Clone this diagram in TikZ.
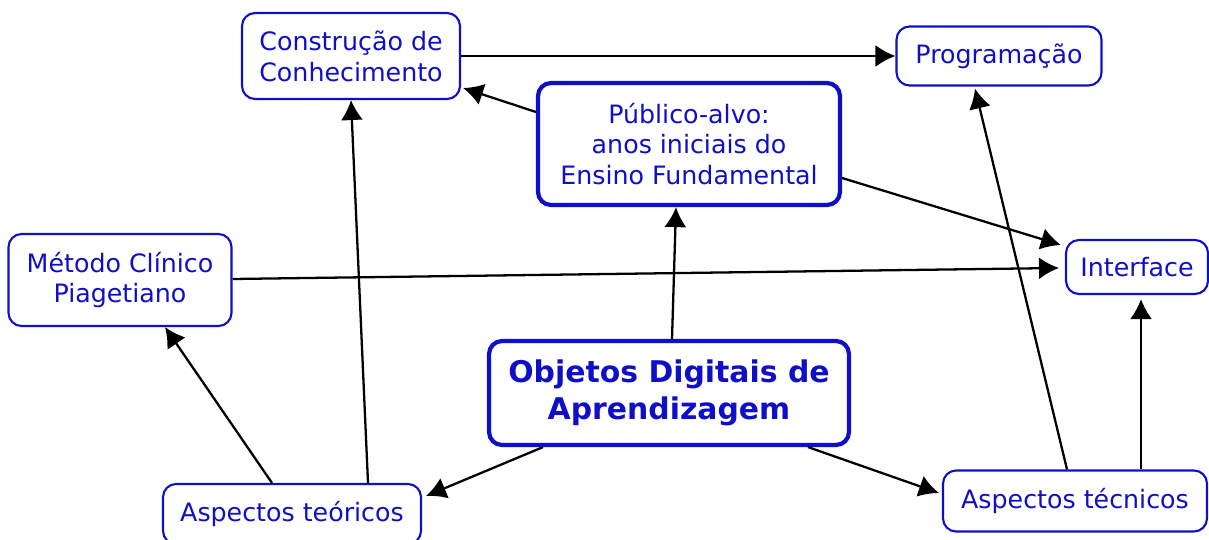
\documentclass[tikz,border=0pt]{standalone}
\usepackage{fontspec}
\setmainfont{DejaVu Sans}
\usetikzlibrary{arrows.meta,calc}
\definecolor{mapblue}{RGB}{15,15,200}

\begin{document}
\begin{tikzpicture}[x=0.02cm, y=-0.02cm, >={Latex[length=0.4cm,width=0.44cm]},
  font=\fontsize{14.4}{17.6}\selectfont]

  \tikzstyle{concept}=[draw=mapblue, text=mapblue, line width=1.2pt,
    rounded corners=0.26cm, fill=white, align=center, inner sep=0pt]
  \tikzstyle{main}=[concept, line width=2.4pt]
  \tikzstyle{link}=[black, line width=1.3pt, ->]

  \useasboundingbox (0,0) rectangle (1209,540);

  \node [concept, minimum width=4.36cm, minimum height=1.72cm] (constr) at (351,56)
    {Construção de\\Conhecimento};
  \node [concept, minimum width=4.1cm, minimum height=1.18cm] (prog) at (999,56)
    {Programação};
  \node [main, minimum width=6.04cm, minimum height=2.44cm] (publico) at (689,144)
    {Público-alvo:\\anos iniciais do\\Ensino Fundamental};
  \node [concept, minimum width=4.46cm, minimum height=1.84cm] (metodo) at (120,280)
    {Método Clínico\\Piagetiano};
  \node [concept, minimum width=2.84cm, minimum height=1.08cm] (interface) at (1137,267)
    {Interface};
  \node [main, minimum width=7.2cm, minimum height=2.08cm,
    font=\bfseries\fontsize{17}{21}\selectfont] (objetos) at (669,393)
    {Objetos Digitais de\\Aprendizagem};
  \node [concept, minimum width=5.16cm, minimum height=1.2cm] (teoricos) at (292,514)
    {Aspectos teóricos};
  \node [concept, minimum width=5.28cm, minimum height=1.22cm] (tecnicos) at (1075,501)
    {Aspectos técnicos};

  \draw [link] (constr.east) -- (prog.west);
  \draw [link] ($(publico.west)+(0,-32)$) -- ($(constr.east)+(2,32)$);
  \draw [link] ($(publico.east)+(0,34)$) -- ($(interface.west)+(-4,-22)$);
  \draw [link] ($(objetos.north)+(3,0)$) -- ($(publico.south)+(-13,0)$);
  \draw [link] ($(metodo.east)+(0,-1)$) -- ($(interface.west)+(-6,1)$);
  \draw [link] ($(teoricos.north)+(-20,0)$) -- ($(metodo.south)+(45,0)$);
  \draw [link] ($(teoricos.north)+(76,0)$) -- (constr.south);
  \draw [link] ($(objetos.south)+(-126,0)$) -- ($(teoricos.east)+(4,-18)$);
  \draw [link] ($(objetos.south)+(139,0)$) -- ($(tecnicos.west)+(-3,-8)$);
  \draw [link] ($(tecnicos.north)+(-8,0)$) -- ($(prog.south)+(-24,2)$);
  \draw [link] ($(tecnicos.north)+(66,0)$) -- ($(interface.south)+(4,4)$);

\end{tikzpicture}
\end{document}
